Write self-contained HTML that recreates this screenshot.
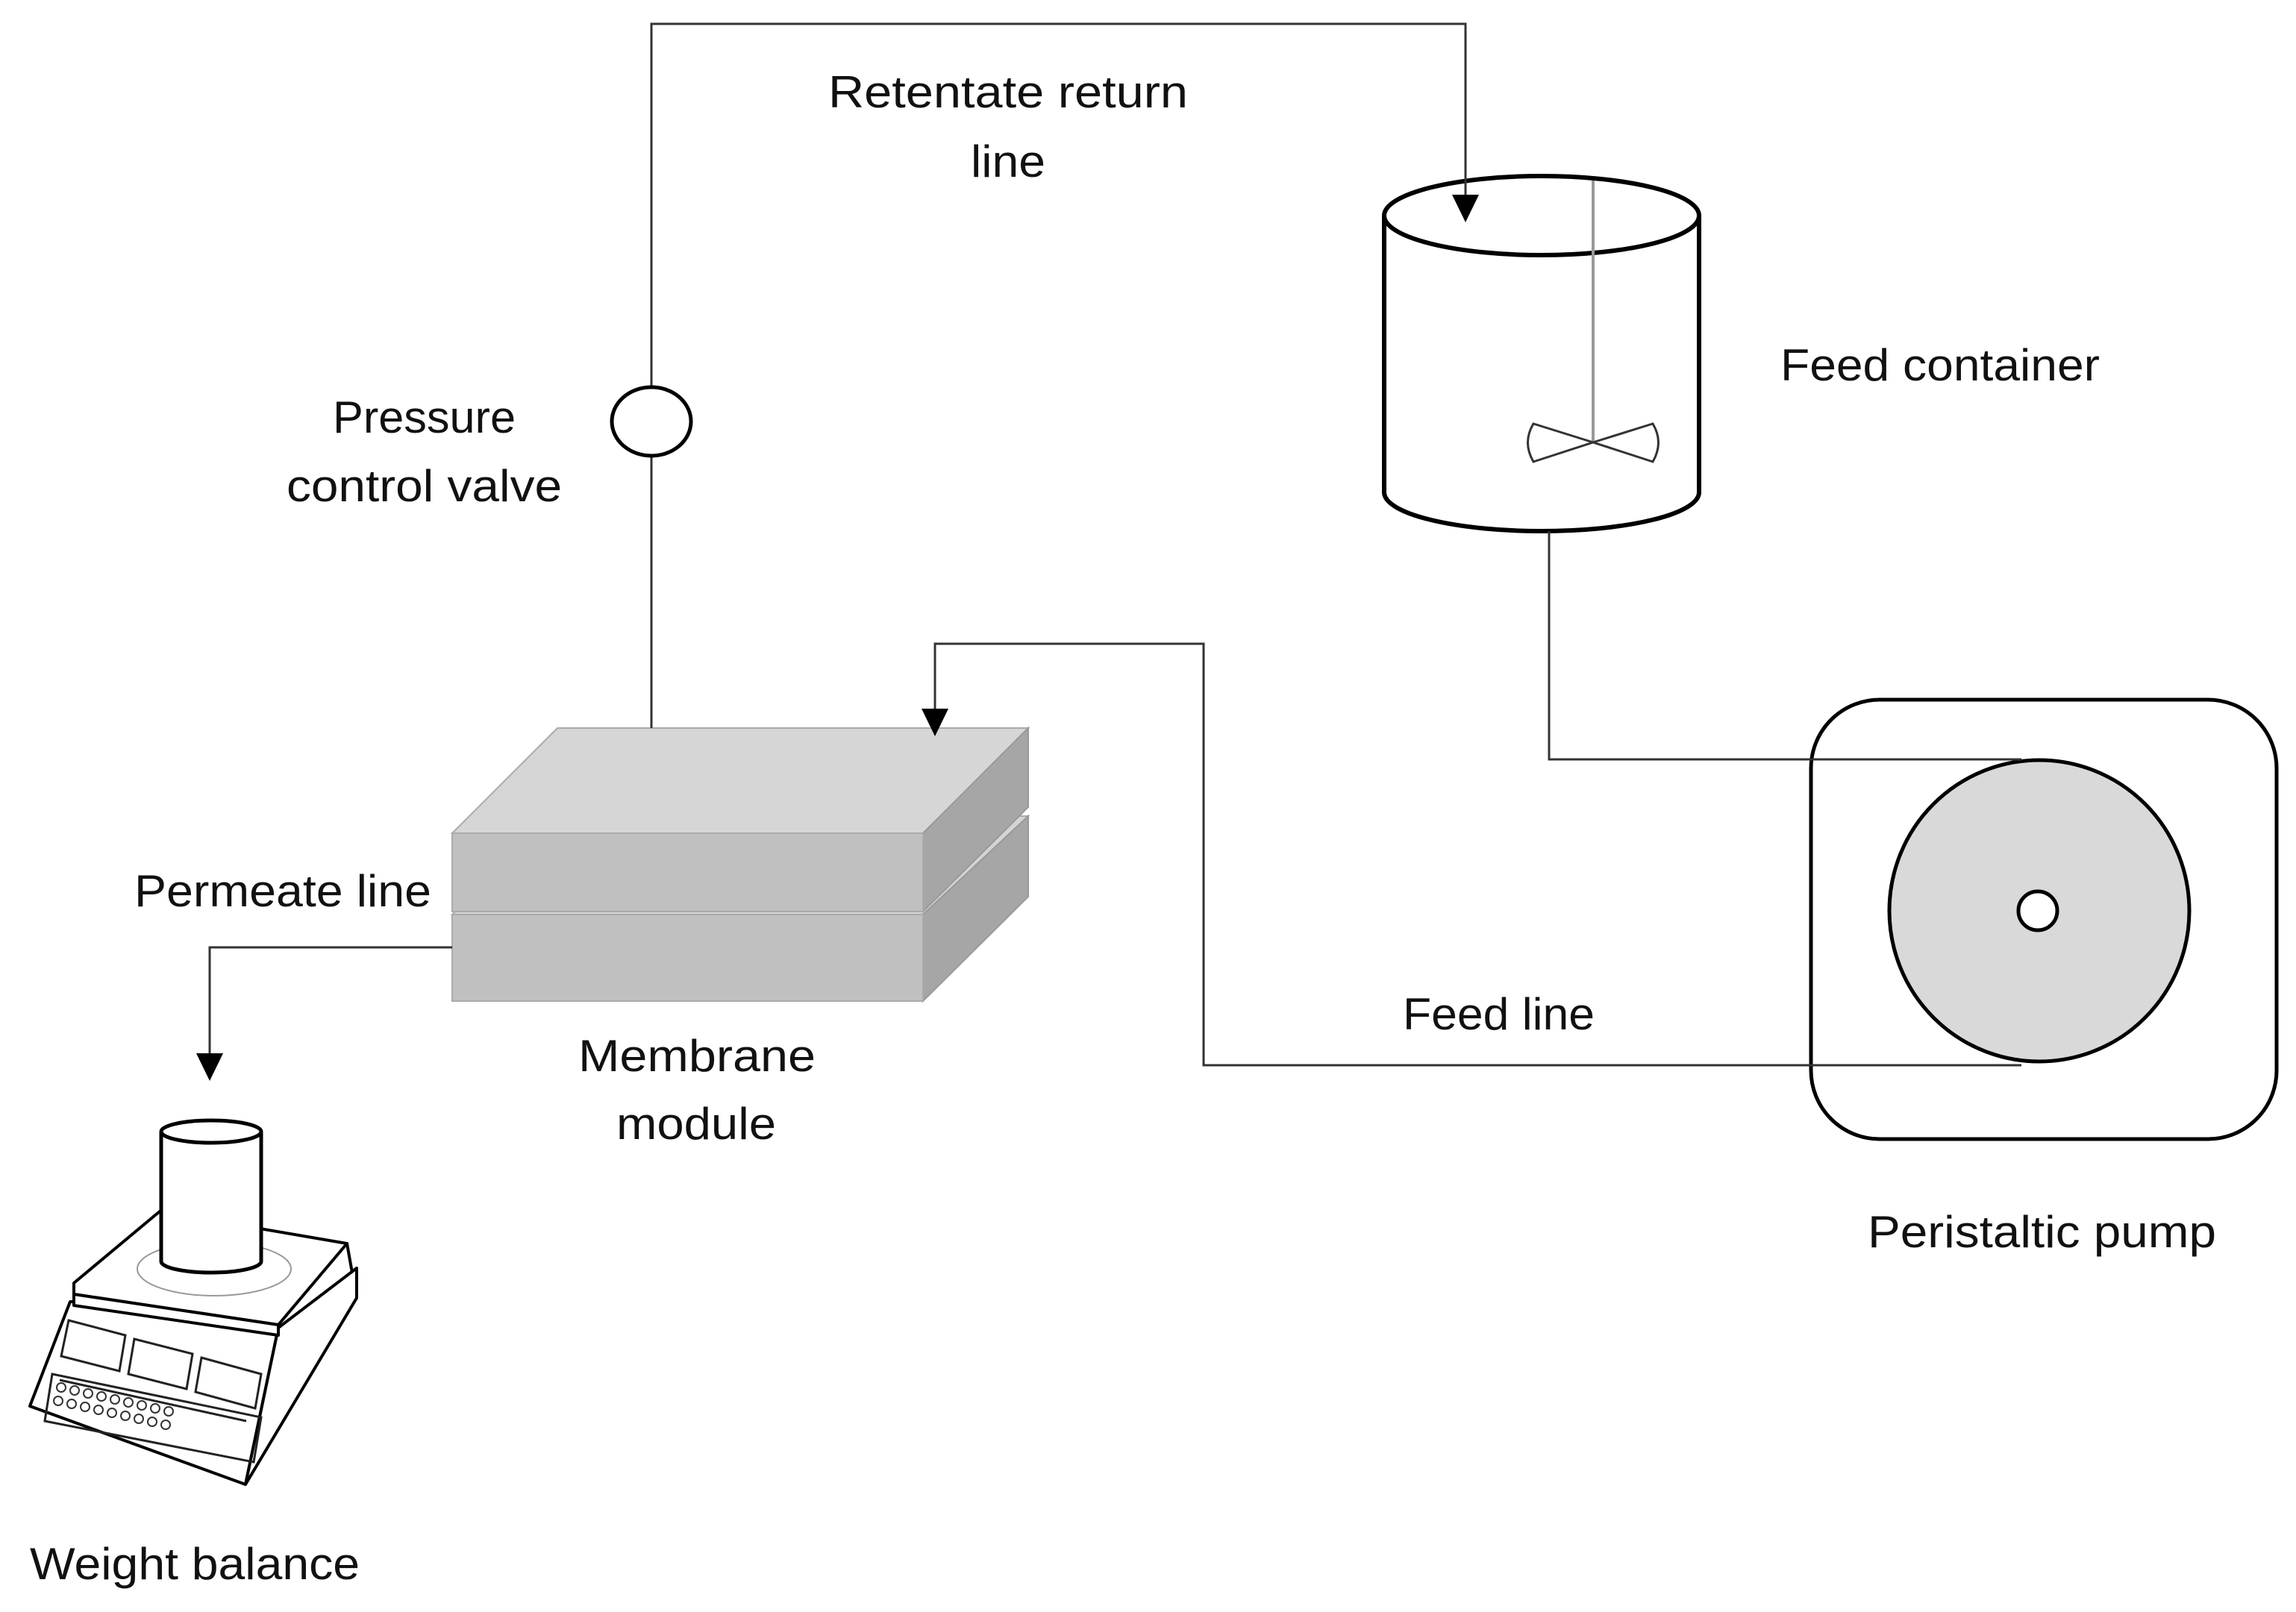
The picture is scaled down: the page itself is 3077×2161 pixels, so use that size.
<!DOCTYPE html>
<html><head><meta charset="utf-8"><style>
html,body{margin:0;padding:0;background:#fff;}
svg{display:block;}
text{font-family:"Liberation Sans",sans-serif;font-size:60px;fill:#111;}
</style></head><body>
<svg width="3077" height="2161" viewBox="0 0 3077 2161" xmlns="http://www.w3.org/2000/svg">
<!-- container -->
<path d="M1855,289 L1855,660 A211,52 0 0 0 2277,660 L2277,289" fill="#fff" stroke="#000" stroke-width="6"/>
<ellipse cx="2066" cy="289" rx="211" ry="53" fill="#fff" stroke="#000" stroke-width="6"/>
<line x1="2135" y1="242" x2="2135" y2="593" stroke="#999" stroke-width="4"/>
<path d="M2135,593 L2055,568 Q2040,593 2055,619 Z M2135,593 L2215,568 Q2230,593 2215,619 Z" fill="#fff" stroke="#333" stroke-width="3"/>
<!-- pump -->
<rect x="2427" y="938" width="624" height="589" rx="92" fill="none" stroke="#000" stroke-width="5"/>
<ellipse cx="2733" cy="1221" rx="201" ry="202" fill="#d9d9d9" stroke="#000" stroke-width="5"/>
<circle cx="2731" cy="1221" r="26" fill="#fff" stroke="#000" stroke-width="5"/>
<!-- membrane module -->
<polygon points="606,1226 747,1094 1378,1094 1237,1226" fill="#d4d4d4" stroke="#aaa" stroke-width="2"/>
<polygon points="1237,1226 1378,1094 1378,1202 1237,1342" fill="#a6a6a6" stroke="#999" stroke-width="2"/>
<rect x="606" y="1226" width="631" height="116" fill="#c0c0c0" stroke="#aaa" stroke-width="2"/>
<polygon points="606,1117 747,976 1378,976 1237,1117" fill="#d6d6d6" stroke="#aaa" stroke-width="2"/>
<polygon points="1237,1117 1378,976 1378,1082 1237,1222" fill="#a6a6a6" stroke="#999" stroke-width="2"/>
<rect x="606" y="1117" width="631" height="105" fill="#c0c0c0" stroke="#aaa" stroke-width="2"/>
<g fill="none" stroke="#333" stroke-width="3">
<polyline points="873,976 873,612"/>
<polyline points="873,518 873,32 1964,32 1964,262"/>
<polyline points="2076,712 2076,1018 2709,1018"/>
<polyline points="2709,1428 1613,1428 1613,863 1253,863 1253,950"/>
<polyline points="606,1270 281,1270 281,1412"/>
</g>
<path d="M1946,261 L1982,261 L1964,298 Z" fill="#000"/>
<path d="M1235,950 L1271,950 L1253,987 Z" fill="#000"/>
<path d="M263,1412 L299,1412 L281,1449 Z" fill="#000"/>
<ellipse cx="873" cy="565" rx="53" ry="46" fill="#fff" stroke="#000" stroke-width="5"/>
<!-- weight balance -->
<g stroke="#000" stroke-width="4" fill="#fff" stroke-linejoin="round">
<polygon points="94,1745 40,1885 329,1990 373,1780 478,1740 465,1667 373,1745"/>
<polygon points="329,1990 478,1740 478,1700 373,1780" fill="#fff"/>
<polygon points="99,1720 214,1624 465,1667 373,1776 99,1735"/>
<polygon points="99,1735 373,1776 373,1790 99,1750"/>
</g>
<g stroke="#222" stroke-width="3" fill="none">
<polygon points="92,1770 168,1790 160,1838 82,1818"/>
<polygon points="180,1795 258,1815 250,1862 172,1842"/>
<polygon points="270,1820 350,1842 342,1888 262,1866"/>
<polygon points="70,1842 350,1900 340,1960 60,1905"/>
<line x1="80" y1="1850" x2="330" y2="1905"/>
</g>
<g fill="none" stroke="#333" stroke-width="2">
<circle cx="82" cy="1860" r="6"/><circle cx="100" cy="1864" r="6"/><circle cx="118" cy="1868" r="6"/><circle cx="136" cy="1872" r="6"/><circle cx="154" cy="1876" r="6"/><circle cx="172" cy="1880" r="6"/><circle cx="190" cy="1884" r="6"/><circle cx="208" cy="1888" r="6"/><circle cx="226" cy="1892" r="6"/>
<circle cx="78" cy="1878" r="6"/><circle cx="96" cy="1882" r="6"/><circle cx="114" cy="1886" r="6"/><circle cx="132" cy="1890" r="6"/><circle cx="150" cy="1894" r="6"/><circle cx="168" cy="1898" r="6"/><circle cx="186" cy="1902" r="6"/><circle cx="204" cy="1906" r="6"/><circle cx="222" cy="1910" r="6"/>
</g>
<ellipse cx="287" cy="1701" rx="103" ry="36" fill="none" stroke="#999" stroke-width="2"/>
<path d="M216,1517 L216,1691 A67,15 0 0 0 350,1691 L350,1517" fill="#fff" stroke="#000" stroke-width="5"/>
<ellipse cx="283" cy="1517" rx="67" ry="15" fill="#fff" stroke="#000" stroke-width="5"/>
<!-- labels -->
<text x="1110" y="144" textLength="482" lengthAdjust="spacingAndGlyphs">Retentate return</text>
<text x="1301" y="237" textLength="100" lengthAdjust="spacingAndGlyphs">line</text>
<text x="446" y="580" textLength="245" lengthAdjust="spacingAndGlyphs">Pressure</text>
<text x="384" y="672" textLength="369" lengthAdjust="spacingAndGlyphs">control valve</text>
<text x="2386" y="510" textLength="428" lengthAdjust="spacingAndGlyphs">Feed container</text>
<text x="180" y="1215" textLength="398" lengthAdjust="spacingAndGlyphs">Permeate line</text>
<text x="775" y="1436" textLength="318" lengthAdjust="spacingAndGlyphs">Membrane</text>
<text x="826" y="1527" textLength="214" lengthAdjust="spacingAndGlyphs">module</text>
<text x="1880" y="1380" textLength="257" lengthAdjust="spacingAndGlyphs">Feed line</text>
<text x="2503" y="1672" textLength="467" lengthAdjust="spacingAndGlyphs">Peristaltic pump</text>
<text x="40" y="2117" textLength="442" lengthAdjust="spacingAndGlyphs">Weight balance</text>
</svg>
</body></html>
